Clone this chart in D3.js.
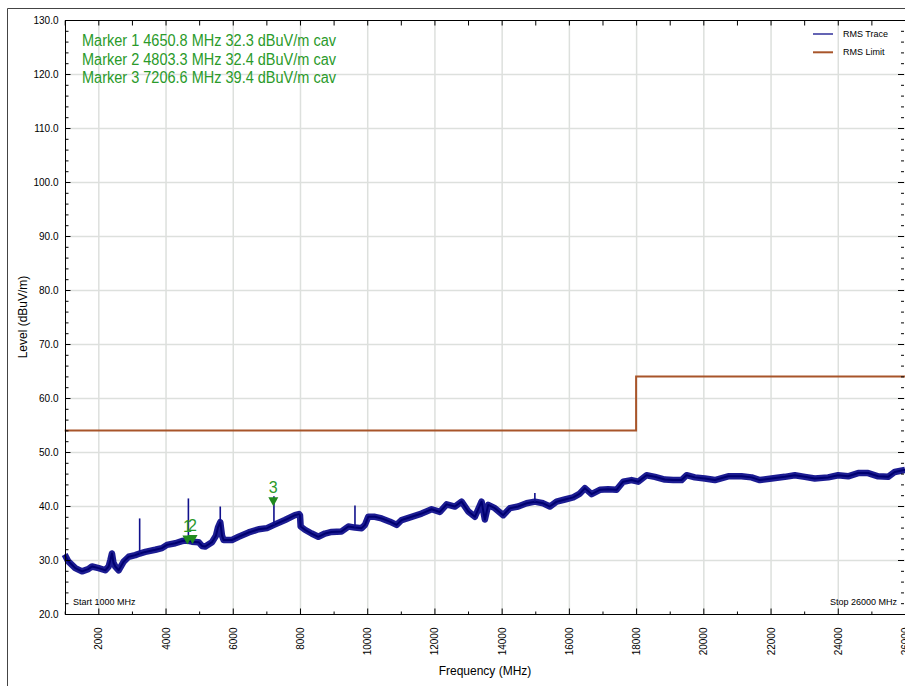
<!DOCTYPE html>
<html>
<head>
<meta charset="utf-8">
<script src="https://cdn.jsdelivr.net/npm/d3@7"></script>
<style>
  html, body { margin: 0; padding: 0; background: #fff; overflow: hidden; }
  svg { display: block; font-family: "Liberation Sans", Arial, sans-serif; }
</style>
</head>
<body>
<svg id="chart" width="905" height="686"></svg>
<script>
// ---------- data ----------
const traceFreq = [1000,1100,1200,1315,1515,1700,1812,2010,2208,2308,2360,2406,2450,2505,2605,2755,2904,3100,3230,3397,3695,3894,4043,4290,4489,4650,4786,4985,5083,5182,5381,5500,5560,5628,5680,5729,5976,6175,6473,6770,7018,7225,7553,7850,7969,8000,8020,8148,8347,8545,8743,8942,9239,9438,9636,9834,9933,10031,10230,10428,10676,10875,11024,11321,11618,11916,12163,12362,12609,12808,13005,13204,13403,13500,13600,13798,14046,14245,14492,14741,14988,15236,15435,15634,15881,16128,16327,16476,16675,16922,17169,17418,17615,17865,18062,18310,18558,18855,19103,19351,19500,19748,20045,20343,20738,21136,21434,21681,22029,22425,22722,23020,23317,23714,24010,24307,24605,24903,25200,25497,25695,26000];
const traceLevel = [31.0,29.8,29.2,28.5,27.9,28.3,28.8,28.5,28.1,28.8,30.0,31.2,29.5,28.8,28.1,29.7,30.6,30.9,31.2,31.5,31.9,32.2,32.8,33.1,33.5,33.6,33.4,33.3,32.6,32.5,33.3,34.5,36.0,37.0,34.5,33.7,33.7,34.3,35.1,35.7,35.9,36.5,37.4,38.3,38.5,38.3,36.2,35.6,34.9,34.3,34.9,35.2,35.3,36.2,36.0,35.9,36.5,38.0,38.0,37.7,37.1,36.5,37.4,38.0,38.6,39.4,38.9,40.3,39.9,40.8,39.0,38.0,40.8,37.5,40.2,39.6,38.3,39.6,39.9,40.5,40.8,40.5,39.9,40.8,41.2,41.6,42.3,43.3,42.2,43.0,43.1,43.0,44.5,44.8,44.5,45.7,45.4,44.9,44.8,44.8,45.7,45.3,45.1,44.8,45.5,45.5,45.3,44.8,45.1,45.4,45.7,45.4,45.1,45.3,45.7,45.5,46.1,46.1,45.5,45.4,46.3,46.7];

const spikeFreq = [3230, 4680, 5628, 7225, 9636, 14988];
const spikeBase = [31.2, 33.6, 37.0, 36.5, 36.0, 40.8];
const spikeTop  = [37.7, 41.4, 39.9, 41.8, 40.1, 42.4];

const limitFreq  = [1000, 18000, 18000, 26000];
const limitLevel = [54, 54, 64, 64];

const markerIds   = ["1", "2", "3"];
const markerFreq  = [4650.8, 4803.3, 7206.6];
const markerLevel = [32.3, 32.4, 39.4];
const markerTexts = [
  "Marker 1 4650.8 MHz 32.3 dBuV/m cav",
  "Marker 2 4803.3 MHz 32.4 dBuV/m cav",
  "Marker 3 7206.6 MHz 39.4 dBuV/m cav"
];

const xTicks = [2000,4000,6000,8000,10000,12000,14000,16000,18000,20000,22000,24000,26000];
const xMinor = [1000,3000,5000,7000,9000,11000,13000,15000,17000,19000,21000,23000,25000];
const yTicks = [20,30,40,50,60,70,80,90,100,110,120,130];
const yMinor = d3.range(20, 131, 2);
const legendLabels = ["RMS Trace", "RMS Limit"];

// ---------- layout ----------
const L = 65, R = 905, T = 20, B = 614;
const traceColor = "#10108c", limitColor = "#a8552a", green = "#2a9a2a";

const svg = d3.select("#chart");
const x = d3.scaleLinear().domain([1000, 26000]).range([L - 0.3, R]);
const y = d3.scaleLinear().domain([20, 130]).range([B, T]);

// outer frame
svg.append("line").attr("x1", 7.5).attr("x2", 7.5).attr("y1", 8.5).attr("y2", 686).attr("stroke", "#444");
svg.append("line").attr("x1", 7.5).attr("x2", 905).attr("y1", 8.5).attr("y2", 8.5).attr("stroke", "#444");

// grid
const grid = svg.append("g");
grid.append("g").attr("transform", `translate(0,${B})`)
  .call(d3.axisBottom(x).tickValues(xTicks.filter(d => d < 26000)).tickSize(-(B - T)).tickFormat(""))
  .call(g => g.select(".domain").remove())
  .call(g => g.selectAll("line").attr("stroke", "#dde0dd").attr("stroke-width", 1.5));
grid.append("g").attr("transform", `translate(${L},0)`)
  .call(d3.axisLeft(y).tickValues(yTicks.filter(d => d > 20 && d < 130)).tickSize(-(R - L)).tickFormat(""))
  .call(g => g.select(".domain").remove())
  .call(g => g.selectAll("line").attr("stroke", "#dde0dd").attr("stroke-width", 1.5));

// limit line
const line = d3.line().x(d => x(d[0])).y(d => y(d[1]));
svg.append("path")
  .datum(limitFreq.map((f, i) => [f, limitLevel[i]]))
  .attr("d", line).attr("fill", "none").attr("stroke", limitColor).attr("stroke-width", 2);

// trace
svg.append("path")
  .datum(traceFreq.map((f, i) => [f, traceLevel[i]]))
  .attr("d", line).attr("fill", "none").attr("stroke", traceColor)
  .attr("stroke-width", 6.5).attr("stroke-linejoin", "round").attr("stroke-opacity", 0.95);
svg.append("path")
  .datum(traceFreq.map((f, i) => [f, traceLevel[i]]))
  .attr("d", line).attr("fill", "none").attr("stroke", "#000070")
  .attr("stroke-width", 2).attr("stroke-linejoin", "round");

// spikes
svg.append("g").selectAll("path").data(spikeFreq).join("path")
  .attr("d", (f, i) => line([[f, spikeBase[i]], [f, spikeTop[i]]]))
  .attr("stroke", traceColor).attr("stroke-width", 1.6).attr("fill", "none");

// axes frame
svg.append("rect").attr("x", L + 0.5).attr("y", T + 0.5).attr("width", R - L).attr("height", B - T)
  .attr("fill", "none").attr("stroke", "#000").attr("stroke-width", 1);

// y axis left
const yAx = svg.append("g").attr("transform", `translate(${L + 0.5},0)`)
  .call(d3.axisLeft(y).tickValues(yTicks).tickSize(-5).tickPadding(7).tickFormat(d3.format(".1f")));
yAx.select(".domain").remove();
yAx.selectAll("text").attr("font-size", 10).attr("fill", "#000").attr("font-family", "Liberation Sans, Arial");
svg.append("g").attr("transform", `translate(${L + 0.5},0)`)
  .call(d3.axisLeft(y).tickValues(yMinor).tickSize(-3).tickFormat(""))
  .call(g => g.select(".domain").remove());
// y axis right
svg.append("g").attr("transform", `translate(${R - 1},0)`)
  .call(d3.axisRight(y).tickValues(yTicks).tickSize(-6).tickFormat(""))
  .call(g => g.select(".domain").remove());
svg.append("g").attr("transform", `translate(${R - 1},0)`)
  .call(d3.axisRight(y).tickValues(yMinor).tickSize(-3).tickFormat(""))
  .call(g => g.select(".domain").remove());

// x axis bottom
const xAx = svg.append("g").attr("transform", `translate(0,${B + 0.5})`)
  .call(d3.axisBottom(x).tickValues(xTicks).tickSize(-6).tickFormat(d3.format("d")));
xAx.select(".domain").remove();
xAx.selectAll("text")
  .attr("font-size", 10).attr("fill", "#000").attr("font-family", "Liberation Sans, Arial")
  .attr("transform", "rotate(-90)").attr("text-anchor", "end")
  .attr("x", -13).attr("y", 0).attr("dy", "0.35em");
svg.append("g").attr("transform", `translate(0,${B + 0.5})`)
  .call(d3.axisBottom(x).tickValues(xMinor).tickSize(-3).tickFormat(""))
  .call(g => g.select(".domain").remove());
// x axis top
svg.append("g").attr("transform", `translate(0,${T + 0.5})`)
  .call(d3.axisTop(x).tickValues(xTicks.concat(xMinor)).tickSize(-5).tickFormat(""))
  .call(g => g.select(".domain").remove());

// axis titles
svg.append("text").attr("x", 485).attr("y", 675).attr("text-anchor", "middle")
  .attr("font-size", 12).text("Frequency (MHz)");
svg.append("text").attr("transform", "translate(27,317) rotate(-90)").attr("text-anchor", "middle")
  .attr("font-size", 12).text("Level (dBuV/m)");

// start / stop
svg.append("text").attr("x", 73).attr("y", 605).attr("font-size", 9).text("Start 1000 MHz");
svg.append("text").attr("x", 897).attr("y", 605).attr("text-anchor", "end").attr("font-size", 9).text("Stop 26000 MHz");

// legend
const legendColors = [traceColor, limitColor];
const lg = svg.append("g");
legendLabels.forEach((lab, i) => {
  const yy = 34 + i * 18.3;
  lg.append("line").attr("x1", 813).attr("x2", 833).attr("y1", yy).attr("y2", yy)
    .attr("stroke", legendColors[i]).attr("stroke-width", i === 0 ? 1.3 : 2);
  lg.append("text").attr("x", 843).attr("y", yy + 3).attr("font-size", 9).text(lab);
});

// marker texts
markerTexts.forEach((t, i) => {
  svg.append("text").attr("x", 82).attr("y", 46 + i * 18.7)
    .attr("font-size", 16).attr("fill", green)
    .attr("textLength", 254).attr("lengthAdjust", "spacingAndGlyphs").text(t);
});

// markers
const mk = svg.append("g");
markerFreq.forEach((f, i) => {
  const px = x(f), py = y(markerLevel[i]);
  const tip = py - 3;
  mk.append("path").attr("d", `M${px - 5},${tip - 9}L${px + 5},${tip - 9}L${px},${tip}Z`).attr("fill", "#1f8a1f");
  mk.append("text").attr("x", px).attr("y", tip - 13).attr("text-anchor", "middle")
    .attr("font-size", 16).attr("fill", green).text(markerIds[i]);
});
</script>
</body>
</html>
